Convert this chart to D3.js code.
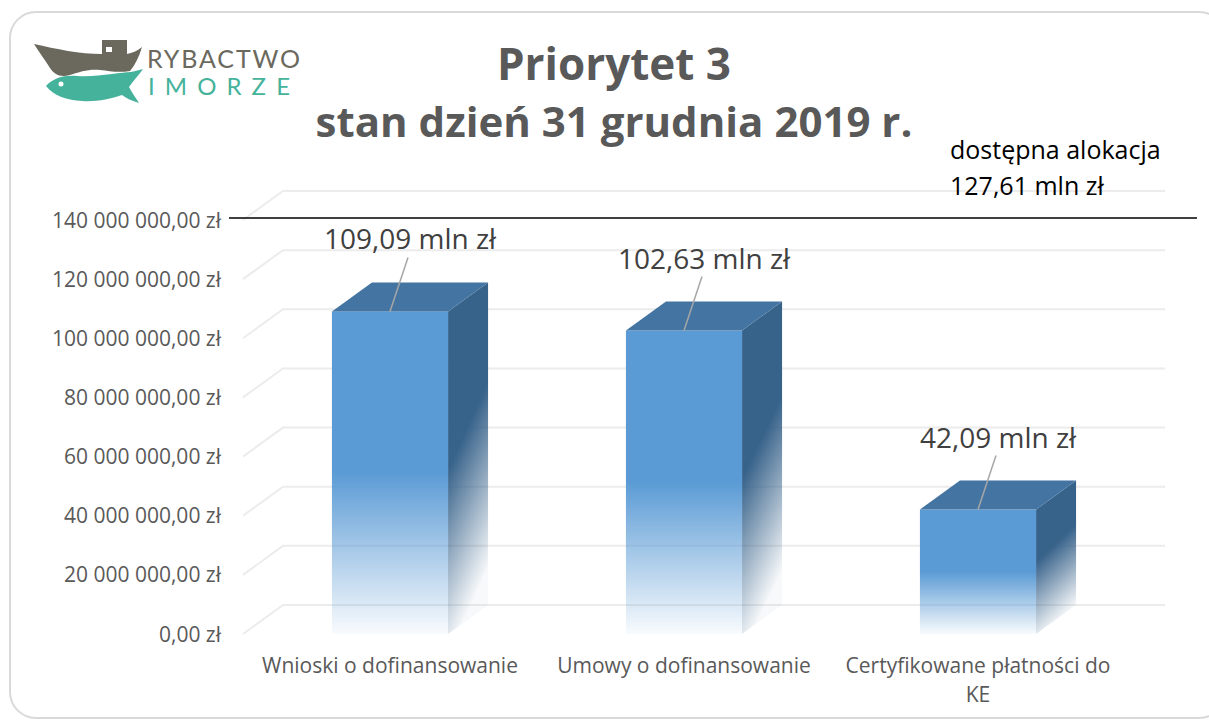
<!DOCTYPE html>
<html>
<head>
<meta charset="utf-8">
<script src="https://cdn.jsdelivr.net/npm/d3@7"></script>
<style>
  html, body { margin: 0; padding: 0; background: #fff; }
  svg { display: block; font-family: "Open Sans", sans-serif; }
</style>
</head>
<body>
<svg id="chart" width="1209" height="722"></svg>
<script>
// data
const categories = ["Wnioski o dofinansowanie", "Umowy o dofinansowanie", "Certyfikowane płatności do KE"];
const values = [109.09e6, 102.63e6, 42.09e6];
const yTicks = [0, 20e6, 40e6, 60e6, 80e6, 100e6, 120e6, 140e6];
const titleLines = ["Priorytet 3", "stan dzień 31 grudnia 2019 r."];
const allocation = 127.61e6;
const allocationLines = ["dostępna alokacja", "127,61 mln zł"];

const pl = d3.formatLocale({decimal: ",", thousands: " ", grouping: [3], currency: ["", " zł"]});
const fmtTick = d => pl.format(",.2f")(d) + " zł";
const fmtMln = d => pl.format(".2f")(d / 1e6) + " mln zł";

const svg = d3.select("#chart");

// 3d depth of the chart floor / walls
const dx = 40, dy = -29;

const y = d3.scaleLinear().domain([0, 140e6]).range([634, 220]);
const x = d3.scaleBand().domain(categories).range([243, 1125]);
const barW = x.bandwidth() * 0.395;

// frame
svg.append("rect")
    .attr("x", 10).attr("y", 12)
    .attr("width", 1215).attr("height", 706)
    .attr("rx", 26)
    .attr("fill", "#fff")
    .attr("stroke", "#d9d9d9")
    .attr("stroke-width", 2);

const defs = svg.append("defs");
function fade(id, color, x2, y2) {
  const g = defs.append("linearGradient").attr("id", id)
      .attr("x1", 0).attr("y1", 0).attr("x2", x2).attr("y2", y2);
  g.append("stop").attr("offset", 0).attr("stop-color", color);
  g.append("stop").attr("offset", 0.5).attr("stop-color", color);
  g.append("stop").attr("offset", 1).attr("stop-color", color).attr("stop-opacity", 0.04);
}
fade("frontFade", "#5b9bd5", 0, 1);
fade("sideFade", "#37628a", 0.25, 1);

// gridlines: floor diagonal then back wall
svg.append("g")
    .attr("fill", "none")
    .attr("stroke", "#ececec")
    .attr("stroke-width", 2)
  .selectAll("path")
  .data(yTicks)
  .join("path")
    .attr("d", d => `M${x.range()[0]},${y(d)}L${x.range()[0] + dx},${y(d) + dy}H${x.range()[1] + dx}`);

// tick labels
svg.append("g")
    .attr("fill", "#595959")
    .attr("font-size", 21)
    .attr("text-anchor", "end")
  .selectAll("text")
  .data(yTicks)
  .join("text")
    .attr("x", x.range()[0] - 22)
    .attr("y", d => y(d))
    .attr("dy", "0.36em")
    .text(fmtTick);

// bars
const bars = svg.append("g").selectAll("g")
  .data(values.map((v, i) => ({cat: categories[i], v})))
  .join("g");

bars.append("path")
    .attr("fill", "url(#sideFade)")
    .attr("d", d => {
      const x1 = x(d.cat) + (x.bandwidth() + barW) / 2;
      return `M${x1},${y(d.v)}L${x1 + dx},${y(d.v) + dy}L${x1 + dx},${y(0) + dy}L${x1},${y(0)}Z`;
    });

bars.append("rect")
    .attr("fill", "url(#frontFade)")
    .attr("x", d => x(d.cat) + (x.bandwidth() - barW) / 2)
    .attr("y", d => y(d.v))
    .attr("width", barW)
    .attr("height", d => y(0) - y(d.v));

bars.append("path")
    .attr("fill", "#4475a2")
    .attr("d", d => {
      const x0 = x(d.cat) + (x.bandwidth() - barW) / 2;
      return `M${x0},${y(d.v)}H${x0 + barW}L${x0 + barW + dx},${y(d.v) + dy}H${x0 + dx}Z`;
    });

// leader lines + value labels
bars.append("line")
    .attr("stroke", "#a6a6a6")
    .attr("stroke-width", 1.5)
    .attr("x1", d => x(d.cat) + x.bandwidth() / 2)
    .attr("y1", d => y(d.v))
    .attr("x2", d => x(d.cat) + x.bandwidth() / 2 + 18)
    .attr("y2", d => y(d.v) - 54);

bars.append("text")
    .attr("fill", "#404040")
    .attr("font-size", 28)
    .attr("text-anchor", "middle")
    .attr("x", d => x(d.cat) + x.bandwidth() / 2 + 20)
    .attr("y", d => y(d.v) - 62)
    .text(d => fmtMln(d.v));

// category labels, wrapped
const catG = svg.append("g")
    .attr("fill", "#595959")
    .attr("font-size", 21)
    .attr("text-anchor", "middle");
categories.forEach(c => {
  const cx = x(c) + x.bandwidth() / 2;
  const t = catG.append("text").attr("x", cx).attr("y", 673);
  let line = [], tspan = t.append("tspan").attr("x", cx);
  c.split(" ").forEach(w => {
    line.push(w);
    tspan.text(line.join(" "));
    if (tspan.node().getComputedTextLength() > 280 && line.length > 1) {
      line.pop();
      tspan.text(line.join(" "));
      line = [w];
      tspan = t.append("tspan").attr("x", cx).attr("dy", 29).text(w);
    }
  });
});

// allocation line + note
svg.append("line")
    .attr("x1", 229).attr("x2", 1197)
    .attr("y1", y(140e6) - 2).attr("y2", y(140e6) - 2)
    .attr("stroke", "#000")
    .attr("stroke-width", 1.5);

svg.append("text")
    .attr("font-size", 25)
    .attr("fill", "#000")
  .selectAll("tspan")
  .data(allocationLines)
  .join("tspan")
    .attr("x", 950)
    .attr("y", (d, i) => 159 + i * 36)
    .text(d => d);

// title
svg.append("text")
    .attr("text-anchor", "middle")
    .attr("font-weight", "bold")
    .attr("fill", "#595959")
  .selectAll("tspan")
  .data(titleLines)
  .join("tspan")
    .attr("x", 614)
    .attr("y", (d, i) => i ? 137 : 80)
    .attr("font-size", (d, i) => i ? 42 : 44)
    .text(d => d);

// logo
const logo = svg.append("g");
logo.append("path")
    .attr("fill", "#6b695e")
    .attr("d", "M34,44 C56,49 80,54 102,54 L102,40 L127,40 L127,54 C132,53 137,51 142,47 C139,57 135,65 130,71 C118,73 110,71 100,70 C88,69 80,72 70,75 C60,78 54,74 50,68 C45,60 39,52 34,44 Z");
logo.append("rect")
    .attr("fill", "#fff")
    .attr("x", 106).attr("y", 47).attr("width", 6).attr("height", 5);
logo.append("path")
    .attr("fill", "#45b29b")
    .attr("d", "M46,86 C53,78 64,75 77,76 C90,77 100,75 112,74 C120,73 126,72 131,72 C136,71 139,70 143,69 C139,75 133,81 129,87 C132,93 136,98 139,103 C132,101 126,98 122,95 C110,99 96,102 82,101 C67,100 54,96 46,86 Z");
logo.append("circle")
    .attr("fill", "#fff")
    .attr("cx", 61).attr("cy", 84).attr("r", 2.5);
logo.append("text")
    .attr("x", 147).attr("y", 68)
    .attr("font-family", "Lato")
    .attr("font-size", 25)
    .attr("fill", "#6b695e")
    .attr("textLength", 153)
    .attr("lengthAdjust", "spacing")
    .text("RYBACTWO");
logo.append("text")
    .attr("x", 148).attr("y", 95)
    .attr("font-family", "Lato")
    .attr("font-size", 24)
    .attr("fill", "#45b29b")
    .attr("textLength", 142)
    .attr("lengthAdjust", "spacing")
    .text("IMORZE");
</script>
</body>
</html>
